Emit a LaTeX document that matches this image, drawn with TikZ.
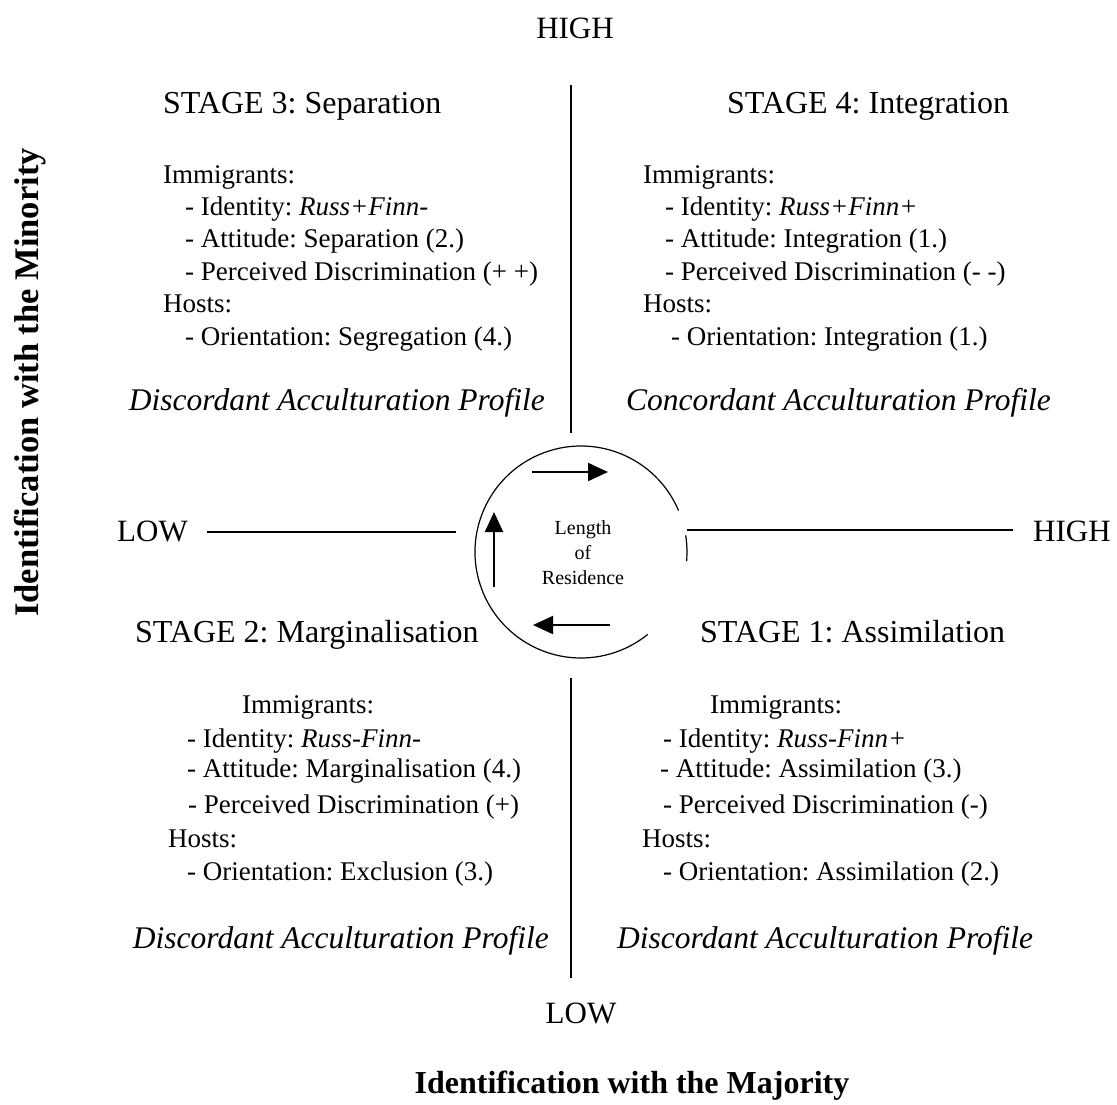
\documentclass[tikz,border=0pt]{standalone}
\usepackage{fontspec}
\setmainfont{Liberation Serif}
\usetikzlibrary{arrows.meta}
\frenchspacing
\begin{document}
\begin{tikzpicture}[x=1pt,y=1pt,
  title/.style={anchor=base west,inner sep=0pt,font=\fontsize{32}{38}\selectfont},
  body/.style={anchor=base west,inner sep=0pt,font=\fontsize{27}{32}\selectfont},
  prof/.style={inner sep=0pt,font=\fontsize{31.5}{36}\itshape\selectfont},
  axlab/.style={inner sep=0pt,font=\fontsize{31}{36}\selectfont},
  bigbold/.style={inner sep=0pt,font=\fontsize{32}{38}\bfseries\selectfont},
  axline/.style={line width=2.6pt},
  cyc/.style={line width=2pt,-{Triangle[length=20pt,width=18pt]}}]
\useasboundingbox (0,0) rectangle (1117,-1104);
% axes
\coordinate (vt1) at (571,-85);  \coordinate (vt2) at (571,-433);
\coordinate (vb1) at (571,-678); \coordinate (vb2) at (571,-978);
\coordinate (hl1) at (207,-532); \coordinate (hl2) at (456,-532);
\coordinate (hr1) at (687,-530); \coordinate (hr2) at (1013,-530);
\draw[axline] (vt1) -- (vt2);
\draw[axline] (vb1) -- (vb2);
\draw[axline] (hl1) -- (hl2);
\draw[axline] (hr1) -- (hr2);
\node[axlab,anchor=base] (hightop) at (575,-38) {HIGH};
\node[axlab,anchor=base] (lowbot) at (581,-1023) {LOW};
\node[axlab,anchor=base west] (lowleft) at (117,-541) {LOW};
\node[axlab,anchor=base west] (highright) at (1033,-541) {HIGH};
\node[bigbold,anchor=base] (majority) at (632,-1093) {Identification with the Majority};
\node[bigbold,anchor=base west,rotate=90,font=\fontsize{34.5}{40}\bfseries\selectfont] (minority) at (38,-617) {Identification with the Minority};
% circle
\coordinate (cc) at (581,-552);
\draw[line width=1.2pt] (cc) ++(23:106) arc[start angle=23,end angle=309,radius=106];
\draw[line width=1.2pt] (cc) ++(-5:106) arc[start angle=-5,end angle=9,radius=106];
\coordinate (a1s) at (532,-472); \coordinate (a1e) at (608,-472);
\coordinate (a2s) at (494,-587); \coordinate (a2e) at (494,-512);
\coordinate (a3s) at (610,-625); \coordinate (a3e) at (533,-625);
\draw[cyc] (a1s) -- (a1e);
\draw[cyc] (a2s) -- (a2e);
\draw[cyc] (a3s) -- (a3e);
\node[align=center,inner sep=0pt,font=\fontsize{20}{25}\selectfont] (lor) at (583,-553) {Length\\of\\Residence};
% Stage 3
\node[title] (s3t) at (163,-113) {STAGE 3: Separation};
\node[body] (s3a) at (163,-183) {Immigrants:};
\node[body] (s3b) at (185,-215) {- Identity: \textit{Russ+Finn-}};
\node[body] (s3c) at (185,-247) {- Attitude: Separation (2.)};
\node[body] (s3d) at (185,-280) {- Perceived Discrimination (+ +)};
\node[body] (s3e) at (163,-312) {Hosts:};
\node[body] (s3f) at (185,-345) {- Orientation: Segregation (4.)};
\node[prof,anchor=base east] (s3p) at (545,-410) {Discordant Acculturation Profile};
% Stage 4
\node[title] (s4t) at (727,-113) {STAGE 4: Integration};
\node[body] (s4a) at (643,-183) {Immigrants:};
\node[body] (s4b) at (665,-215) {- Identity: \textit{Russ+Finn+}};
\node[body] (s4c) at (665,-247) {- Attitude: Integration (1.)};
\node[body] (s4d) at (665,-280) {- Perceived Discrimination (- -)};
\node[body] (s4e) at (643,-312) {Hosts:};
\node[body] (s4f) at (671,-345) {- Orientation: Integration (1.)};
\node[prof,anchor=base east] (s4p) at (1051,-410) {Concordant Acculturation Profile};
% Stage 2
\node[title] (s2t) at (135,-642) {STAGE 2: Marginalisation};
\node[body] (s2a) at (242,-713) {Immigrants:};
\node[body] (s2b) at (187,-747) {- Identity: \textit{Russ-Finn-}};
\node[body] (s2c) at (187,-777) {- Attitude: Marginalisation (4.)};
\node[body] (s2d) at (188,-813) {- Perceived Discrimination (+)};
\node[body] (s2e) at (168,-847) {Hosts:};
\node[body] (s2f) at (187,-880) {- Orientation: Exclusion (3.)};
\node[prof,anchor=base east] (s2p) at (549,-948) {Discordant Acculturation Profile};
% Stage 1
\node[title] (s1t) at (700,-642) {STAGE 1: Assimilation};
\node[body] (s1a) at (710,-713) {Immigrants:};
\node[body] (s1b) at (663,-747) {- Identity: \textit{Russ-Finn+}};
\node[body] (s1c) at (660,-777) {- Attitude: Assimilation (3.)};
\node[body] (s1d) at (663,-813) {- Perceived Discrimination (-)};
\node[body] (s1e) at (642,-847) {Hosts:};
\node[body] (s1f) at (663,-880) {- Orientation: Assimilation (2.)};
\node[prof,anchor=base west] (s1p) at (617,-948) {Discordant Acculturation Profile};
\end{tikzpicture}
\end{document}
